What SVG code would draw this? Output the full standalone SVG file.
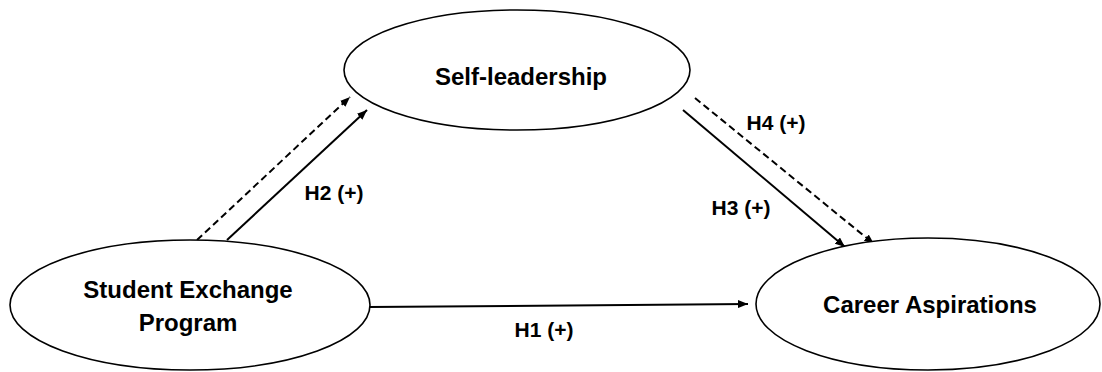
<svg xmlns="http://www.w3.org/2000/svg" width="1102" height="372" viewBox="0 0 1102 372">
<style>
.node ellipse{fill:#fff;stroke:#000;stroke-width:1.6}
.node text{font-family:"Liberation Sans",Arial,sans-serif;font-weight:bold;font-size:24px;fill:#000;text-anchor:middle}
.lbl{font-family:"Liberation Sans",Arial,sans-serif;font-weight:bold;font-size:21px;fill:#000;text-anchor:middle}
.edge{stroke:#000;stroke-width:2;fill:none;marker-end:url(#ah)}
.dash{stroke-dasharray:7,4}
</style>
<defs>
<marker id="ah" markerUnits="userSpaceOnUse" viewBox="0 0 10 8" refX="10" refY="4" markerWidth="10" markerHeight="8" orient="auto">
<path d="M0,0 L10,4 L0,8 z" fill="#000"/>
</marker>
</defs>
<g id="connectors">
<line class="edge" x1="369" y1="307" x2="748" y2="304"/>
<line class="edge" x1="227" y1="240" x2="367" y2="110"/>
<line class="edge dash" x1="197" y1="240" x2="350" y2="97"/>
<line class="edge" x1="683" y1="110" x2="845" y2="247"/>
<line class="edge dash" x1="695" y1="98" x2="874" y2="244"/>
<text class="lbl" x="544" y="337">H1 (+)</text>
<text class="lbl" x="334" y="200">H2 (+)</text>
<text class="lbl" x="741" y="215">H3 (+)</text>
<text class="lbl" x="776" y="130">H4 (+)</text>
</g>
<g id="self-leadership" class="node">
<ellipse cx="517" cy="70" rx="173" ry="60"/>
<text x="521" y="85">Self-leadership</text>
</g>
<g id="student-exchange" class="node">
<ellipse cx="190" cy="305" rx="180" ry="65"/>
<text x="188" y="298">Student Exchange</text>
<text x="188" y="331">Program</text>
</g>
<g id="career-aspirations" class="node">
<ellipse cx="928" cy="304" rx="172" ry="66"/>
<text x="930" y="313">Career Aspirations</text>
</g>
</svg>
